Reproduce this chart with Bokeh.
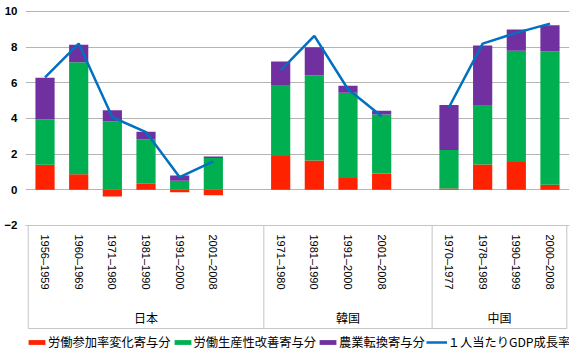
from bokeh.plotting import figure
from bokeh.models import FactorRange, Range1d, FixedTicker, Legend, LegendItem, ColumnDataSource
from bokeh.core.properties import value
from bokeh.embed import file_html
from bokeh.resources import INLINE

# ---- data ----
groups = ["日本", "韓国", "中国"]
countries = ["日本"] * 6 + ["韓国"] * 4 + ["中国"] * 4
periods = ["1956–1959", "1960–1969", "1971–1980", "1981–1990", "1991–2000", "2001–2008",
           "1971–1980", "1981–1990", "1991–2000", "2001–2008",
           "1970–1977", "1978–1989", "1990–1999", "2000–2008"]
labor_participation = [1.41, 0.88, -0.37, 0.34, -0.13, -0.30,
                       1.90, 1.65, 0.66, 0.92,
                       0.07, 1.42, 1.56, 0.28]
productivity = [2.55, 6.27, 3.83, 2.49, 0.51, 1.78,
                3.93, 4.76, 4.78, 3.30,
                2.16, 3.29, 6.24, 7.47]
agri_shift = [2.33, 0.99, 0.63, 0.43, 0.30, 0.09,
              1.37, 1.58, 0.39, 0.21,
              2.52, 3.39, 1.19, 1.48]
gdp_growth = [6.30, 8.20, 4.07, 3.24, 0.71, 1.60,
              6.70, 8.63, 5.64, 4.13,
              4.63, 8.20, 8.80, 9.32]
series_names = ["労働参加率変化寄与分", "労働生産性改善寄与分", "農業転換寄与分", "１人当たりGDP成長率"]
y_ticks = [-2, 0, 2, 4, 6, 8, 10]

# ---- styles ----
RED, GREEN, PURPLE, BLUE = "#FF2200", "#00B050", "#7030A0", "#0070C0"
GRID = "#B4B4B4"
BOX = "#C4C4C4"
JP_FONT = "Noto Sans CJK JP"

# factors: each group followed by one empty slot (except the last)
factors = []
bounds = [0]
for g in groups:
    factors += [(g, per) for c, per in zip(countries, periods) if c == g]
    if g != groups[-1]:
        factors.append((g, " "))
    bounds.append(len(factors))

bar_x = [(c, per) for c, per in zip(countries, periods)]
red_bottom = [min(0, v) for v in labor_participation]
red_top = [max(0, v) for v in labor_participation]
green_bottom = [max(0, v) for v in labor_participation]
green_top = [b + v for b, v in zip(green_bottom, productivity)]
purple_bottom = green_top
purple_top = [b + v for b, v in zip(purple_bottom, agri_shift)]

src = ColumnDataSource(dict(x=bar_x, rb=red_bottom, rt=red_top, gb=green_bottom, gt=green_top,
                            pb=purple_bottom, pt=purple_top))

gdp_map = {(c, per): v for c, per, v in zip(countries, periods, gdp_growth)}
line_y = [gdp_map.get(f, float("nan")) for f in factors]

x_range = FactorRange(*factors, factor_padding=0, group_padding=0, subgroup_padding=0,
                      range_padding=0.01)
y_range = Range1d(-9.29, 10.28)

p = figure(width=578, height=355, x_range=x_range, y_range=y_range,
           output_backend="svg", toolbar_location=None,
           min_border_left=25, min_border_right=9, min_border_top=6, min_border_bottom=0)
p.outline_line_color = None
p.background_fill_color = "white"

BAR_W = 0.57
r_red = p.vbar(x="x", bottom="rb", top="rt", width=BAR_W, source=src, fill_color=RED, line_color=None)
r_green = p.vbar(x="x", bottom="gb", top="gt", width=BAR_W, source=src, fill_color=GREEN, line_color=None)
r_purple = p.vbar(x="x", bottom="pb", top="pt", width=BAR_W, source=src, fill_color=PURPLE, line_color=None)
r_line = p.line(x=factors, y=line_y, line_color=BLUE, line_width=2.5)

# category box below the plot area
BOX_TOP = -2
BOX_BOTTOM = -7.78
p.segment(x0=bounds, y0=[BOX_TOP] * len(bounds), x1=bounds, y1=[BOX_BOTTOM] * len(bounds),
          line_color=BOX, line_width=1)
p.segment(x0=[bounds[0]], y0=[BOX_BOTTOM], x1=[bounds[-1]], y1=[BOX_BOTTOM],
          line_color=BOX, line_width=1)

# group labels
GROUP_Y = -7.16
p.text(x=groups, y=[GROUP_Y] * len(groups), text=groups, text_align="center",
       text_baseline="middle", text_font=value(JP_FONT), text_font_size="12px",
       text_color="black")

# x axis
xa = p.xaxis[0]
xa.fixed_location = -2
xa.axis_line_color = BOX
xa.major_tick_line_color = None
xa.minor_tick_line_color = None
xa.major_tick_out = 0
xa.major_tick_in = 0
xa.minor_tick_out = 0
xa.minor_tick_in = 0
xa.major_label_orientation = "vertical"
xa.major_label_standoff = 9
xa.major_label_text_font = "Liberation Sans"
xa.major_label_text_font_size = "11px"
xa.major_label_text_color = "black"
xa.group_text_color = None
xa.separator_line_color = None

# y axis
ya = p.yaxis[0]
ya.ticker = FixedTicker(ticks=y_ticks)
ya.axis_line_color = None
ya.major_tick_line_color = None
ya.minor_tick_line_color = None
ya.major_tick_out = 0
ya.major_tick_in = 0
ya.minor_tick_out = 0
ya.minor_tick_in = 0
ya.major_label_standoff = 8
ya.major_label_text_font = "Liberation Sans"
ya.major_label_text_font_size = "11.5px"
ya.major_label_text_font_style = "bold"
ya.major_label_text_color = "black"

p.xgrid.visible = False
p.ygrid.grid_line_color = GRID
p.ygrid.grid_line_width = 1

legend = Legend(items=[LegendItem(label=series_names[0], renderers=[r_red]),
                       LegendItem(label=series_names[1], renderers=[r_green]),
                       LegendItem(label=series_names[2], renderers=[r_purple]),
                       LegendItem(label=series_names[3], renderers=[r_line])],
                orientation="horizontal", location=(1, 4), padding=0, margin=0,
                spacing=1, label_standoff=1, glyph_width=21, glyph_height=6,
                label_height=12, label_text_font=JP_FONT, label_text_font_size="12.25px",
                label_text_color="black",
                border_line_color=None, background_fill_alpha=0)
p.add_layout(legend)

open("out.html", "w").write(file_html(p, INLINE))
